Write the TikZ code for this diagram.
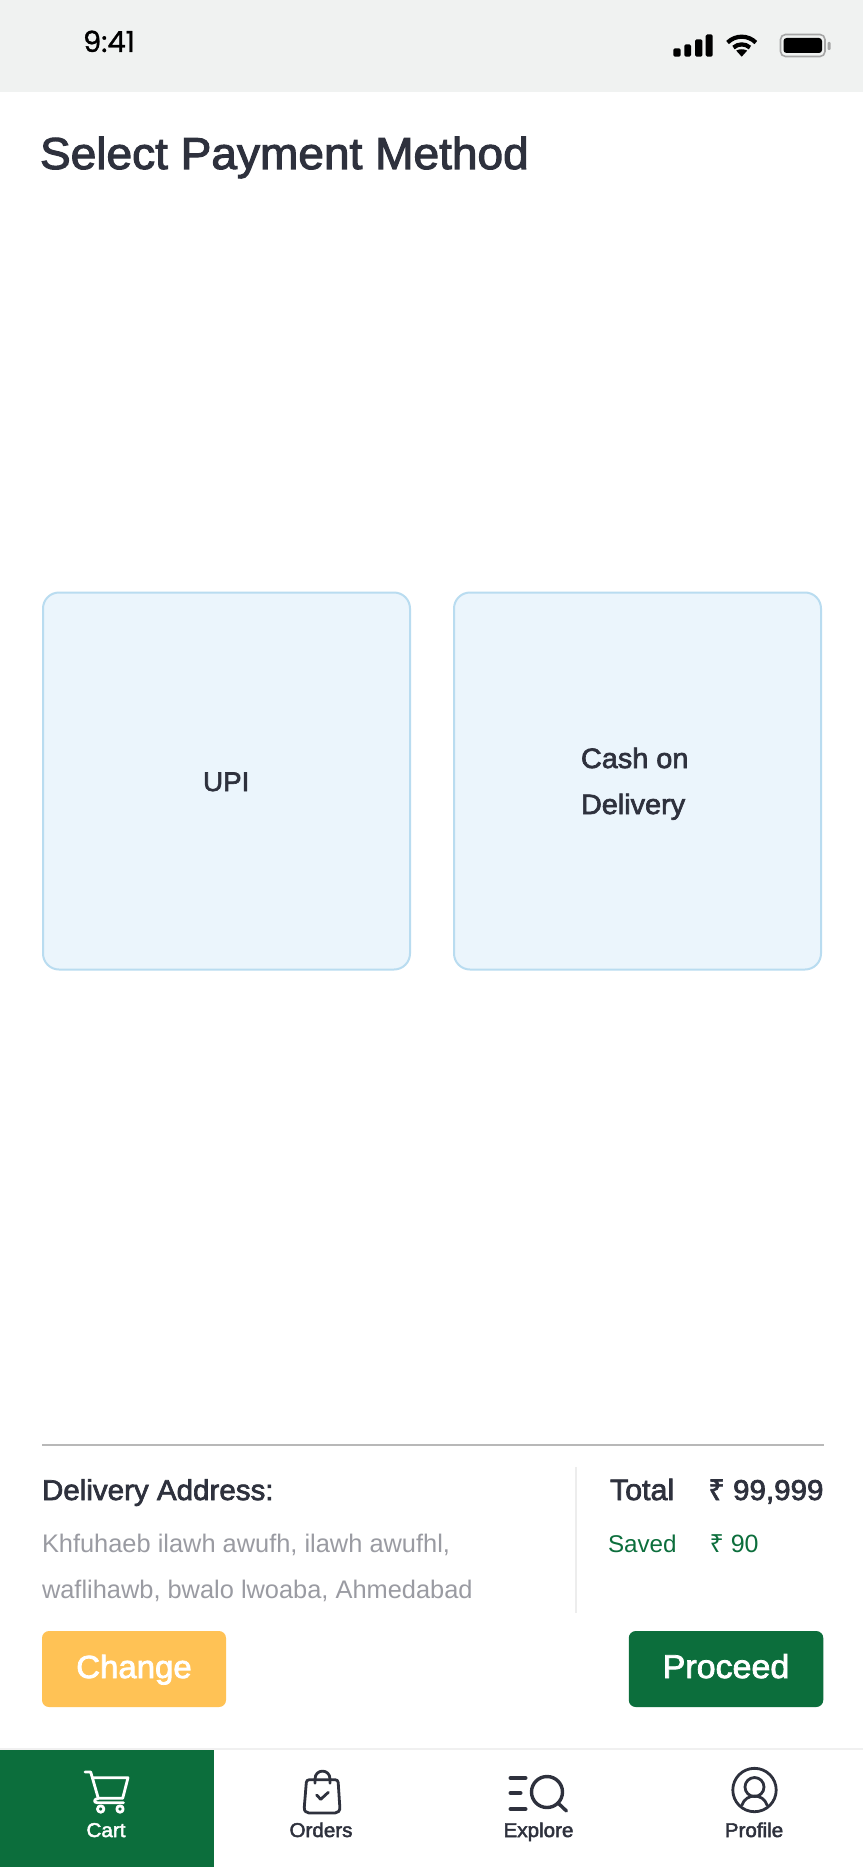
\documentclass[tikz,border=0pt]{standalone}
\usepackage{fontspec}
\setmainfont{Liberation Sans}
\newfontfamily\medfont[FakeBold=2.4, FakeStretch=1.03]{Liberation Sans}
\newfontfamily\clockfont[FakeBold=1]{Poppins}
\newfontfamily\rupeefont{Noto Sans}
\newfontfamily\rupeemed[FakeBold=2.4]{Noto Sans}
\newcommand{\fsz}[2][1.2]{\fontsize{#2}{#1\dimexpr #2pt\relax}\selectfont}
\definecolor{ink}{HTML}{2E313D}
\definecolor{leaf}{HTML}{0C6E3C}
\definecolor{band}{HTML}{F0F2F1}
\definecolor{cardfill}{HTML}{EBF5FC}
\definecolor{cardedge}{HTML}{B9DCF0}
\definecolor{amber}{HTML}{FFC255}
\definecolor{soft}{HTML}{9A9BA2}
\tikzset{
    x=1pt, y=1pt,
    txt/.style={inner sep=0, outer sep=0, anchor=base west, text=ink},
    card/.style={rectangle, rounded corners=16pt, draw=cardedge, fill=cardfill, line width=2pt,
        minimum width=367pt, minimum height=377pt, inner sep=0},
    btn/.style={rectangle, rounded corners=7pt, inner sep=0, minimum height=76pt, text=white,
        text height=24pt, text depth=6pt, font=\medfont\fsz{32}},
    navlbl/.style={inner sep=0, anchor=base, font=\medfont\fsz{20}},
    icon/.style={draw=ink, line width=2.8pt, line cap=round, line join=round},
}
\begin{document}
\begin{tikzpicture}
  \useasboundingbox (0,0) rectangle (863,-1867);
  \fill[white] (0,0) rectangle (863,-1867);

  % status bar
  \fill[band] (0,0) rectangle (863,-92);
  \node (clock) [txt, text=black, font=\clockfont\fsz{29}] at (83,-52) {9:41};
  \foreach \xa/\xb/\top in {673.3/680.7/48.3, 684.3/691/44.3, 695/702.3/39.3, 705.7/712.7/34.3}
    \fill[black, rounded corners=1.5pt] (\xa,-\top) rectangle (\xb,-56.7);
  \draw[black, line width=4.2pt] ([shift={(135:20)}]741.7,-56.7) arc[start angle=135, end angle=45, radius=20];
  \draw[black, line width=4.2pt] ([shift={(132:12.3)}]741.7,-56.7) arc[start angle=132, end angle=48, radius=12.3];
  \fill[black] (741.7,-56.7) -- (736.2,-50.6) .. controls (739,-48.8) and (744.4,-48.8) .. (747.2,-50.6) -- cycle;
  \draw[black!35, line width=1.6pt, rounded corners=5pt] (780.5,-34.5) rectangle (825,-56.5);
  \fill[black, rounded corners=3pt] (783.5,-38) rectangle (822,-53);
  \fill[black!35, rounded corners=1pt] (827.7,-42) rectangle (830.5,-50);

  % title
  \node (title) [txt, font=\medfont\fsz{44.7}] at (40,-169) {Select Payment Method};

  % payment cards
  \node (upi) [card] at (226.5,-781) {};
  \node (cod) [card] at (637.5,-781) {};
  \node (upilbl) [txt, font=\medfont\fsz{27}] at (203,-791) {UPI};
  \node (codlbl) [txt, font=\medfont\fsz{28}] at (581,-768) {Cash on};
  \node (codlbl2) [txt, font=\medfont\fsz{28}] at (581,-814) {Delivery};

  % summary
  \draw[draw=black!28, line width=2pt] (42,-1445) -- (823.5,-1445);
  \draw[draw=black!7, line width=2pt] (576,-1467) -- (576,-1613);
  \node (addrhead) [txt, font=\medfont\fsz{28.7}] at (42,-1500) {Delivery Address:};
  \node (addr1) [txt, text=soft, font=\fsz{25.4}] at (42,-1552) {Khfuhaeb ilawh awufh, ilawh awufhl,};
  \node (addr2) [txt, text=soft, font=\fsz{25.4}] at (42,-1598) {waflihawb, bwalo lwoaba, Ahmedabad};
  \node (total) [txt, font=\medfont\fsz{29.5}] at (610,-1500) {Total};
  \node (totalval) [txt, anchor=base east, font=\medfont\fsz{28.7}] at (823.5,-1500) {{\rupeemed ₹} 99,999};
  \node (saved) [txt, text=leaf, font=\fsz{24.2}] at (608,-1552) {Saved};
  \node (savedval) [txt, text=leaf, font=\fsz{25}] at (709.5,-1552) {{\rupeefont ₹} 90};

  % buttons
  \node (change) [btn, fill=amber, minimum width=184pt] at (134,-1669) {Change};
  \node (proceed) [btn, fill=leaf, minimum width=194.5pt, font=\medfont\fsz{33}] at (726,-1669) {Proceed};

  % nav bar
  \draw[draw=black!6, line width=2pt] (0,-1749) -- (863,-1749);
  \fill[leaf] (0,-1750) rectangle (214,-1867);
  \node (cartlbl) [navlbl, text=white] at (106,-1837) {Cart};
  \node (orderslbl) [navlbl, text=ink] at (321,-1837) {Orders};
  \node (explorelbl) [navlbl, text=ink] at (538.5,-1837) {Explore};
  \node (profilelbl) [navlbl, text=ink] at (754,-1837) {Profile};

  % cart icon
  \draw[icon, draw=white] (85,-1772) -- (90.7,-1772) -- (98.3,-1798.3) -- (122.7,-1798.3) -- (128,-1777.7) -- (92.3,-1777.7);
  \draw[icon, draw=white] (98.3,-1798.3) .. controls (93.5,-1799) and (93.5,-1802.7) .. (97.3,-1802.7) -- (123.5,-1802.7);
  \draw[icon, draw=white] (100.7,-1809) circle[radius=3.2];
  \draw[icon, draw=white] (120,-1809) circle[radius=3.2];

  % bag icon
  \draw[icon] (309,-1779.8) -- (335.5,-1779.8) .. controls (337,-1779.8) and (338,-1780.8) .. (338.2,-1782.5)
    -- (339.8,-1807) .. controls (340.1,-1811) and (338,-1813) .. (335,-1813)
    -- (309,-1813) .. controls (306,-1813) and (304,-1811) .. (304.3,-1807)
    -- (306.3,-1782.5) .. controls (306.5,-1780.8) and (307.5,-1779.8) .. (309,-1779.8) -- cycle;
  \draw[icon] (315,-1783.3) -- (315,-1779) .. controls (315,-1768.5) and (330,-1768.5) .. (330,-1779) -- (330,-1783.3);
  \draw[icon] (316.7,-1795) -- (320.7,-1799.3) -- (328.3,-1792.3);

  % explore icon
  \draw[icon, line width=4pt] (510.5,-1778) -- (525.5,-1778);
  \draw[icon, line width=4pt] (510.5,-1793) -- (520.5,-1793);
  \draw[icon, line width=4pt] (510.5,-1809) -- (525.5,-1809);
  \draw[icon, line width=3.4pt] (547,-1792) circle[radius=15.5];
  \draw[icon, line width=3.4pt] (558,-1803) -- (566.5,-1811);

  % profile icon
  \draw[icon] (754.5,-1790) circle[radius=21.7];
  \draw[icon] (754.5,-1787) circle[radius=9.5];
  \draw[icon] (741.7,-1805.5) .. controls (744,-1799) and (749,-1796) .. (754.5,-1796)
    .. controls (760,-1796) and (765,-1799) .. (767.3,-1805.5);
\end{tikzpicture}
\end{document}
